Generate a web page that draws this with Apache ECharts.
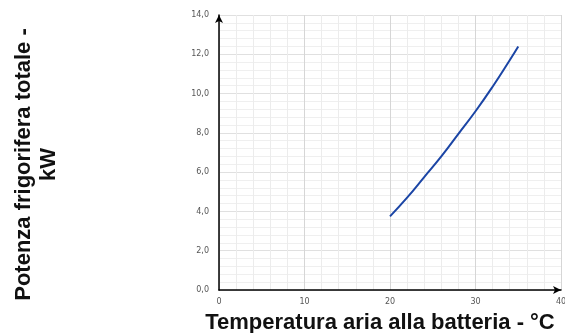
<!DOCTYPE html>
<html>
<head>
<meta charset="utf-8">
<script src="https://cdn.jsdelivr.net/npm/echarts@6/dist/echarts.min.js"></script>
<style>
html,body{margin:0;padding:0;background:#fff;}
#chart{width:565px;height:333px;}
</style>
</head>
<body>
<div id="chart"></div>
<script>
// Data
const temperature = [20, 22, 24, 26, 28, 30, 32, 34, 35];
const capacity = [3.75, 4.7, 5.75, 6.8, 7.95, 9.1, 10.35, 11.7, 12.4];
const xTitle = 'Temperatura aria alla batteria - °C';
const yTitle = 'Potenza frigorifera totale -\nkW';

const seriesData = temperature.map((t, i) => [t, capacity[i]]);

const chart = echarts.init(document.getElementById('chart'), null, {renderer: 'canvas'});
chart.setOption({
  animation: false,
  grid: {left: 219, right: 4, top: 15, bottom: 43, containLabel: false, outerBoundsMode: 'none'},
  xAxis: {
    type: 'value', min: 0, max: 40, interval: 10,
    name: xTitle, nameLocation: 'middle', nameGap: 19,
    nameTextStyle: {fontFamily: 'Liberation Sans', fontWeight: 'bold', fontSize: 22, color: '#111', lineHeight: 24, padding: [0, 20, 0, 0]},
    axisLine: {show: true, symbol: ['none', 'arrow'], symbolSize: [6, 8], lineStyle: {color: '#000', width: 1.5}},
    axisTick: {show: false},
    axisLabel: {fontFamily: 'DejaVu Sans', fontSize: 8, color: '#555', margin: 8},
    splitLine: {show: true, lineStyle: {color: '#d6d6d6', width: 1}},
    minorTick: {show: false, splitNumber: 5},
    minorSplitLine: {show: true, lineStyle: {color: '#ececec', width: 1}}
  },
  yAxis: {
    type: 'value', min: 0, max: 14, interval: 2,
    name: yTitle, nameLocation: 'middle', nameRotate: 90, nameGap: 158,
    nameTextStyle: {fontFamily: 'Liberation Sans', fontWeight: 'bold', fontSize: 22, color: '#111', lineHeight: 25, align: 'center', padding: [0, 24, 0, 0]},
    axisLine: {show: true, symbol: ['none', 'arrow'], symbolSize: [6, 8], lineStyle: {color: '#000', width: 1.5}},
    axisTick: {show: false},
    axisLabel: {fontFamily: 'DejaVu Sans', fontSize: 8, color: '#555', margin: 10,
      formatter: v => v.toFixed(1).replace('.', ',')},
    splitLine: {show: true, lineStyle: {color: '#e0e0e0', width: 1}},
    minorTick: {show: false, splitNumber: 5},
    minorSplitLine: {show: true, lineStyle: {color: '#efefef', width: 1}}
  },
  series: [{
    type: 'line', data: seriesData, smooth: true, showSymbol: false,
    lineStyle: {color: '#1b45a5', width: 2}
  }]
});
</script>
</body>
</html>
